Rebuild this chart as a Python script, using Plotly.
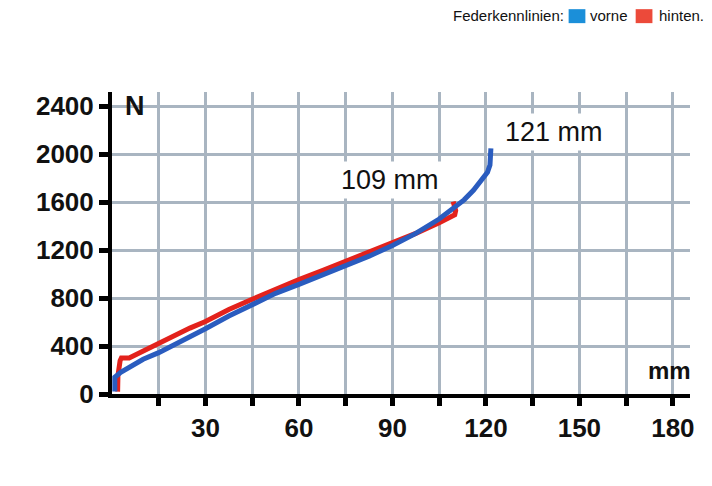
import plotly.graph_objects as go

# Federkennlinie vorne (blue)
front_mm = [0.9, 0.9, 2.8, 5, 7.1, 10, 15, 20, 25, 30, 37.5, 45, 52.5, 60, 67.5, 75,
            82.5, 90, 97.5, 105, 110, 113, 116, 119, 120.5, 121.3, 121.6]
front_N = [20, 140, 180, 215, 250, 290, 345, 410, 480, 545, 650, 750, 840, 915, 990, 1070,
           1150, 1240, 1340, 1460, 1555, 1620, 1700, 1790, 1850, 1910, 2050]

# Federkennlinie hinten (red)
rear_mm = [1.8, 1.9, 2.6, 3.0, 5.5, 10, 15, 20, 25, 30, 37.5, 45, 52.5, 60, 67.5, 75,
           82.5, 90, 97.5, 105, 108, 110, 110.3, 109.5]
rear_N = [20, 150, 278, 300, 300, 360, 425, 490, 550, 605, 705, 790, 875, 955, 1030, 1105,
          1180, 1255, 1340, 1430, 1470, 1495, 1530, 1605]

x_tickvals = [15, 30, 45, 60, 75, 90, 105, 120, 135, 150, 165, 180]
x_ticktext = ["", "30", "", "60", "", "90", "", "120", "", "150", "", "180"]
y_tickvals = [0, 400, 800, 1200, 1600, 2000, 2400]
y_ticktext = ["0", "400", "800", "1200", "1600", "2000", "2400"]

legend_title = "Federkennlinien:"
legend_front = "vorne"
legend_rear = "hinten."

FONT = "Liberation Sans, Arial, sans-serif"
BLUE_LINE = "#2a5cbf"
RED_LINE = "#e3221c"
BLUE_KEY = "#1b8fd9"
RED_KEY = "#ec4a3a"
INK = "#111111"

fig = go.Figure()
fig.add_trace(go.Scatter(x=rear_mm, y=rear_N, mode="lines", name=legend_rear,
                         line=dict(color=RED_LINE, width=5)))
fig.add_trace(go.Scatter(x=front_mm, y=front_N, mode="lines", name=legend_front,
                         line=dict(color=BLUE_LINE, width=5)))

# page body has an 8px margin, so the figure is sized to fill the rest of the window
fig.update_layout(
    width=704, height=478,
    margin=dict(l=104, r=22, t=84, b=91.5),
    paper_bgcolor="white", plot_bgcolor="white",
    showlegend=False,
    font=dict(family=FONT, color=INK),
)
fig.update_xaxes(
    range=[0, 185.5], tickmode="array", tickvals=x_tickvals, ticktext=x_ticktext,
    showgrid=True, gridcolor="#a9b5c1", gridwidth=3, automargin=False,
    showline=True, linecolor="black", linewidth=4, zeroline=False,
    ticks="outside", ticklen=8, tickwidth=5, tickcolor="black",
    tickfont=dict(family=FONT, size=26, weight="bold", color=INK),
)
fig.update_yaxes(
    range=[0, 2520], tickmode="array", tickvals=y_tickvals, ticktext=y_ticktext,
    showgrid=True, gridcolor="#a9b5c1", gridwidth=3, automargin=False,
    showline=True, linecolor="black", linewidth=4, zeroline=False,
    ticks="outside", ticklen=9, tickwidth=5, tickcolor="black",
    tickfont=dict(family=FONT, size=26, weight="bold", color=INK),
)

fig.add_annotation(x=7.3, y=2400, xref="x", yref="y", text="N", showarrow=False,
                   font=dict(family=FONT, size=27, weight="bold", color=INK))
fig.add_annotation(x=178.8, y=196, xref="x", yref="y", text="mm", showarrow=False,
                   font=dict(family=FONT, size=24, weight="bold", color=INK))
fig.add_annotation(x=141.8, y=2190, xref="x", yref="y", text="121 mm", showarrow=False,
                   bgcolor="white", borderpad=3,
                   font=dict(family=FONT, size=27, color=INK))
fig.add_annotation(x=89.1, y=1787, xref="x", yref="y", text="109 mm", showarrow=False,
                   bgcolor="white", borderpad=3,
                   font=dict(family=FONT, size=27, color=INK))

# legend row at the top right
leg_font = dict(family=FONT, size=15, color=INK)
leg_y = 1.252
fig.add_annotation(x=0.784, y=leg_y, xref="paper", yref="paper", xanchor="right",
                   yanchor="middle", showarrow=False, text=legend_title, font=leg_font,
                   borderpad=0)
fig.add_annotation(x=0.826, y=leg_y, xref="paper", yref="paper", xanchor="left",
                   yanchor="middle", showarrow=False, text=legend_front, font=leg_font,
                   borderpad=0)
fig.add_annotation(x=0.944, y=leg_y, xref="paper", yref="paper", xanchor="left",
                   yanchor="middle", showarrow=False, text=legend_rear, font=leg_font,
                   borderpad=0)
fig.add_shape(type="rect", xref="paper", yref="paper", x0=0.790, x1=0.819,
              y0=1.2280, y1=1.2743, fillcolor=BLUE_KEY, line=dict(width=0))
fig.add_shape(type="rect", xref="paper", yref="paper", x0=0.906, x1=0.935,
              y0=1.2280, y1=1.2743, fillcolor=RED_KEY, line=dict(width=0))

fig.write_html("out.html")
